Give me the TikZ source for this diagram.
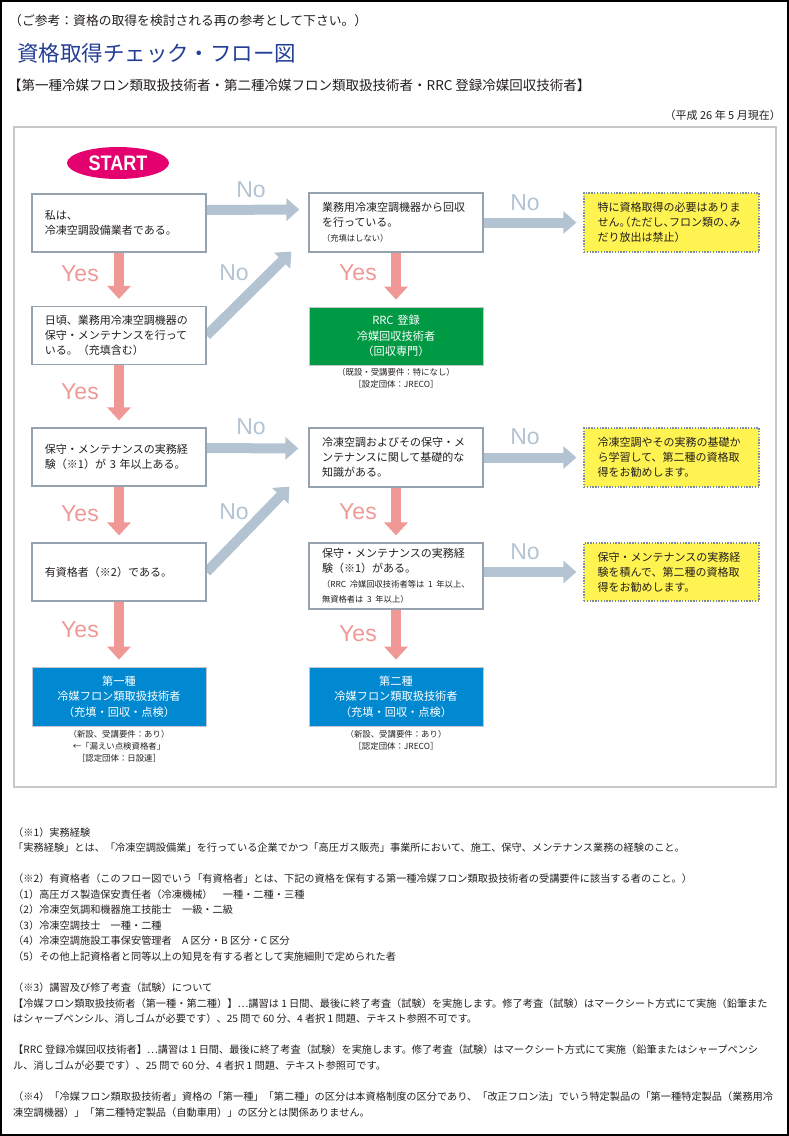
\documentclass[tikz,border=0pt]{standalone}
\usepackage{fontspec}
\setmainfont{Noto Sans CJK JP}
\newfontfamily\latinsf{Liberation Sans}
\usetikzlibrary{shapes.geometric, positioning, calc, arrows.meta}
\definecolor{startred}{RGB}{228,0,110}
\definecolor{yespink}{RGB}{240,152,150}
\definecolor{nogray}{RGB}{180,195,210}
\definecolor{boxline}{RGB}{150,162,175}
\definecolor{rrcgreen}{RGB}{0,153,68}
\definecolor{kindblue}{RGB}{0,137,208}
\definecolor{notice}{RGB}{255,243,82}
\definecolor{dotline}{RGB}{125,140,165}
\definecolor{titleblue}{RGB}{35,62,150}
\definecolor{framegray}{RGB}{200,200,200}
\definecolor{ink}{RGB}{35,30,30}
\newcommand{\jdots}{{\addfontfeature{RawFeature=+fwid}…}}
\pgfdeclarelayer{bg}
\pgfsetlayers{bg,main}

\begin{document}
\begin{tikzpicture}[x=1pt, y=-1pt,
  every node/.style={text=ink},
  qbox/.style={draw=boxline, line width=1.2pt, fill=white, minimum width=174pt, minimum height=58pt,
    text width=148pt, inner xsep=13pt, inner ysep=0pt, align=left, font=\fontsize{11}{15}\selectfont},
  adbox/.style={qbox, fill=notice, draw=dotline, dash pattern=on 1.4pt off 1.4pt, minimum width=175pt},
  resbox/.style={qbox, draw=boxline!60, line width=0.8pt, align=center, text=white, font=\fontsize{11.2}{15.7}\selectfont},
  capt/.style={font=\fontsize{8.4}{12}\selectfont, align=center, inner sep=0pt},
  yesarr/.style={yespink, line width=10pt, -{Triangle[width=23pt,length=13pt]}},
  noarr/.style={nogray, line width=10pt, -{Triangle[width=22pt,length=13pt]}},
  yeslbl/.style={text=yespink, font=\latinsf\fontsize{23}{23}\selectfont, inner sep=0pt},
  nolbl/.style={text=nogray, font=\latinsf\fontsize{23}{23}\selectfont, inner sep=0pt}]

  \useasboundingbox (0,0) rectangle (789,1136);
  \draw[black, line width=2pt] (1,1) rectangle (788,1135);

  \node[anchor=base west, inner sep=0pt, font=\fontsize{12.8}{15}\selectfont] (refnote) at (9,25) {（ご参考：資格の取得を検討される再の参考として下さい。）};
  \node[anchor=base west, inner sep=0pt, text=titleblue, font=\fontsize{21.5}{24}\selectfont] (title) at (17,61) {資格取得チェック・フロー図};
  \node[anchor=base west, inner sep=0pt, font=\fontsize{13.5}{16}\selectfont] (subtitle) at (8,90) {【第一種冷媒フロン類取扱技術者・第二種冷媒フロン類取扱技術者・RRC 登録冷媒回収技術者】};
  \node[anchor=base east, inner sep=0pt, font=\fontsize{11}{13}\selectfont] (date) at (781,119) {（平成 26 年 5 月現在）};

  \draw[framegray, line width=1.6pt] (14,127) rectangle (776,787);

  \node[ellipse, fill=startred, text=white, minimum width=102pt, minimum height=32pt, inner sep=0pt] (start) at (118,163)
    {\latinsf\bfseries\fontsize{21}{21}\selectfont\scalebox{0.86}[1]{START}};

  \node[qbox] (own) at (119,223) {私は、\\冷凍空調設備業者である。};
  \node[qbox] (maint) at (119,335.5) {日頃、業務用冷凍空調機器の\\保守・メンテナンスを行って\\いる。（充填含む）};
  \node[qbox] (exp3) at (119,457) {保守・メンテナンスの実務経\\験（※1）が 3 年以上ある。};
  \node[qbox] (qual) at (119,572) {有資格者（※2）である。};
  \node[resbox, fill=kindblue, minimum height=59pt] (first) at (119,696.5) {第一種\\冷媒フロン類取扱技術者\\（充填・回収・点検）};

  \node[qbox, minimum height=59pt] (recov) at (396,222.5) {業務用冷凍空調機器から回収\\を行っている。\\{\fontsize{8.3}{10}\selectfont （充填はしない）}};
  \node[resbox, fill=rrcgreen] (rrc) at (396,336) {RRC 登録\\冷媒回収技術者\\（回収専門）};
  \node[qbox, minimum height=59pt] (basic) at (396,457.5) {冷凍空調およびその保守・メ\\ンテナンスに関して基礎的な\\知識がある。};
  \node[qbox, minimum height=66pt] (expd) at (396,576) {保守・メンテナンスの実務経\\験（※1）がある。\\{\fontsize{8.3}{10}\selectfont（RRC 冷媒回収技術者等は 1 年以上、}\\{\fontsize{8.3}{10}\selectfont 無資格者は 3 年以上）}};
  \node[resbox, fill=kindblue, minimum height=59pt] (second) at (396,696.5) {第二種\\冷媒フロン類取扱技術者\\（充填・回収・点検）};

  \node[adbox, minimum height=59pt] (nocert) at (671.5,222.5) {特に資格取得の必要はありま\\{\addfontfeature{RawFeature=+halt}せん。（ただし、フロン類の、み}\\だり放出は禁止）};
  \node[adbox, minimum height=59pt] (study) at (671.5,457.5) {冷凍空調やその実務の基礎か\\ら学習して、第二種の資格取\\得をお勧めします。};
  \node[adbox] (practice) at (671.5,572) {保守・メンテナンスの実務経\\験を積んで、第二種の資格取\\得をお勧めします。};

  \node[capt, below=3pt of rrc] (rrcnote) {（既設・受講要件：特になし）\\［設定団体：JRECO］};
  \node[capt, below=4pt of first] (firstnote) {（新設、受講要件：あり）\\←「漏えい点検資格者」\\［認定団体：日設連］};
  \node[capt, below=4pt of second] (secondnote) {（新設、受講要件：あり）\\［認定団体：JRECO］};

  \begin{pgfonlayer}{bg}
    \draw[yesarr] (own.south) -- ([yshift=7pt]maint.north);
    \draw[yesarr] (maint.south) -- ([yshift=7pt]exp3.north);
    \draw[yesarr] (exp3.south) -- ([yshift=7pt]qual.north);
    \draw[yesarr] (qual.south) -- ([yshift=7pt]first.north);
    \draw[yesarr] (recov.south) -- ([yshift=7pt]rrc.north);
    \draw[yesarr] (basic.south) -- ([yshift=7pt]expd.north);
    \draw[yesarr] (expd.south) -- ([yshift=7pt]second.north);

    \draw[noarr] ([yshift=13pt]own.east) -- ([xshift=-9pt,yshift=13pt]recov.west);
    \draw[noarr] (maint.east) -- ([xshift=-17pt,yshift=1pt]recov.south west);
    \draw[noarr] ([yshift=9pt]exp3.east) -- ([xshift=-10pt,yshift=9pt]basic.west);
    \draw[noarr] (qual.east) -- ([xshift=-19pt,yshift=1pt]basic.south west);
    \draw[noarr] (recov.east) -- ([xshift=-7pt]nocert.west);
    \draw[noarr] (basic.east) -- ([xshift=-7pt]study.west);
    \draw[noarr] ([yshift=4pt]expd.east) -- ([xshift=-7pt]practice.west);
  \end{pgfonlayer}

  \node[yeslbl] (yes1) at (80,274) {Yes};
  \node[yeslbl] (yes2) at (80,392) {Yes};
  \node[yeslbl] (yes3) at (80,514) {Yes};
  \node[yeslbl] (yes4) at (80,630) {Yes};
  \node[yeslbl] (yes5) at (358,273) {Yes};
  \node[yeslbl] (yes6) at (358,512) {Yes};
  \node[yeslbl] (yes7) at (358,634) {Yes};
  \node[nolbl] (no1) at (251,190) {No};
  \node[nolbl] (no2) at (234,273) {No};
  \node[nolbl] (no3) at (251,427) {No};
  \node[nolbl] (no4) at (234,512) {No};
  \node[nolbl] (no5) at (525,203) {No};
  \node[nolbl] (no6) at (525,437) {No};
  \node[nolbl] (no7) at (525,552) {No};

  \foreach \t [count=\i] in {%
    {（※1）実務経験},
    {「実務経験」とは、「冷凍空調設備業」を行っている企業でかつ「高圧ガス販売」事業所において、施工、保守、メンテナンス業務の経験のこと。},
    {},
    {（※2）有資格者（このフロー図でいう「有資格者」とは、下記の資格を保有する第一種冷媒フロン類取扱技術者の受講要件に該当する者のこと。）},
    {（1）高圧ガス製造保安責任者（冷凍機械）　一種・二種・三種},
    {（2）冷凍空気調和機器施工技能士　一級・二級},
    {（3）冷凍空調技士　一種・二種},
    {（4）冷凍空調施設工事保安管理者　A 区分・B 区分・C 区分},
    {（5）その他上記資格者と同等以上の知見を有する者として実施細則で定められた者},
    {},
    {（※3）講習及び修了考査（試験）について},
    {【冷媒フロン類取扱技術者（第一種・第二種）】\jdots 講習は 1 日間、最後に終了考査（試験）を実施します。修了考査（試験）はマークシート方式にて実施（鉛筆また},
    {はシャープペンシル、消しゴムが必要です）、25 問で 60 分、4 者択 1 問題、テキスト参照不可です。},
    {},
    {【RRC 登録冷媒回収技術者】\jdots 講習は 1 日間、最後に終了考査（試験）を実施します。修了考査（試験）はマークシート方式にて実施（鉛筆またはシャープペンシ},
    {ル、消しゴムが必要です）、25 問で 60 分、4 者択 1 問題、テキスト参照可です。},
    {},
    {（※4）「冷媒フロン類取扱技術者」資格の「第一種」「第二種」の区分は本資格制度の区分であり、「改正フロン法」でいう特定製品の「第一種特定製品（業務用冷},
    {凍空調機器）」「第二種特定製品（自動車用）」の区分とは関係ありません。}}
    \node[anchor=base west, inner sep=0pt, font=\fontsize{10.2}{12}\selectfont] (note\i) at (13,{836+15.56*(\i-1)}) {\t};
\end{tikzpicture}
\end{document}
